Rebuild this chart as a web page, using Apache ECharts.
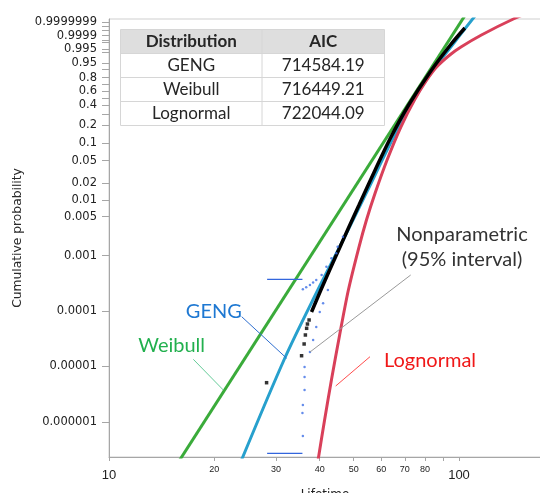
<!DOCTYPE html>
<html><head><meta charset="utf-8">
<script src="https://cdn.jsdelivr.net/npm/echarts@6/dist/echarts.min.js"></script>
<style>html,body{margin:0;padding:0;background:#fff}#chart{width:540px;height:493px}</style>
</head><body><div id="chart"></div>
<script>
// ---------- data ----------
const lifetimeTicks = [10, 20, 30, 40, 50, 60, 70, 80, 100];
const lifetimeMinorTicks = [90];
const probTickLabels = ['0.9999999','0.9999','0.995','0.95','0.8','0.6','0.4','0.2','0.1','0.05','0.02','0.01','0.005','0.001','0.0001','0.00001','0.000001'];
const probMinorTicks = [0.999999, 0.99999, 0.9995, 0.999, 0.99, 0.9, 0.7, 0.5, 0.3];

const weibullLifetime = [15.0, 105.0];
const weibullProb = [1.14e-7, 0.999999999936];

const gengLifetime = [22.9, 31.8, 39.5, 45.9, 54.5, 65.5, 79.8, 97.2, 114.6];
const gengProb = [1.06e-7, 1.42e-5, 2.39e-4, 0.001548, 0.01378, 0.1382, 0.7404, 0.999175, 0.9999999999977];

const lognormalLifetime = [38.8, 39.7, 41.3, 43.2, 45.6, 48.3, 51.7, 54.4, 57.6, 62.3, 68.2, 74.6, 80.9, 86.3, 94.1, 101.3, 115.9, 143.0, 170.1];
const lognormalProb = [8.95e-8, 2.33e-7, 1.08e-6, 5.69e-6, 3.69e-5, 2.39e-4, 0.001366, 0.004364, 0.01333, 0.0515, 0.1878, 0.472, 0.769, 0.919, 0.98403, 0.996876, 0.999925, 0.9999999903, 0.99999999999977];

const npLifetime = [37.9, 40.3, 42.7, 45.3, 48.4, 51.8, 57.6, 63.7, 71.8, 82.7, 94.5, 103.9];
const npProb = [9.59e-5, 2.39e-4, 5.49e-4, 0.001257, 0.0032, 0.008123, 0.03428, 0.1234, 0.4048, 0.8703, 0.998104, 0.99999695];

const npTailLifetime = [28.2, 35.5, 36.1, 36.4, 36.7, 36.9, 37.3];
const npTailProb = [5.09e-6, 1.56e-5, 2.54e-5, 3.69e-5, 4.87e-5, 5.82e-5, 6.88e-5];

const ciLowerLifetime = [35.8, 35.7, 35.8, 36.2, 36.2, 36.2, 37.5, 38.3, 39.1, 40.0, 40.9, 42.2, 44.6, 46.6];
const ciLowerProb = [5.56e-7, 1.45e-6, 2.02e-6, 3.76e-6, 6.45e-6, 9.77e-6, 1.83e-5, 3.0e-5, 5.14e-5, 9.59e-5, 1.38e-4, 2.39e-4, 1.097e-3, 2.188e-3];

const ciUpperLifetime = [35.8, 36.6, 37.5, 38.3, 39.1, 40.5, 41.8, 43.2, 45.0];
const ciUpperProb = [2.46e-4, 2.67e-4, 2.94e-4, 3.27e-4, 3.62e-4, 4.46e-4, 6.29e-4, 8.92e-4, 1.442e-3];

const ciStepLifetime = [28.3, 35.7];
const ciStepUpperProb = [3.73e-4, 3.73e-4];
const ciStepLowerProb = [2.71e-7, 2.71e-7];

const tableHeader = ['Distribution', 'AIC'];
const distNames = ['GENG', 'Weibull', 'Lognormal'];
const aicValues = ['714584.19', '716449.21', '722044.09'];

// ---------- transforms (Weibull probability paper) ----------
const toW = p => Math.log(-Math.log(1 - p));
const toX = t => Math.log10(t);
const pairs = (ts, ps) => ts.map((t, i) => [toX(t), toW(ps[i])]);

const labelW = probTickLabels.map(s => toW(parseFloat(s)));
const tickW = labelW.concat(probMinorTicks.map(toW));
function probLabel(v) {
  let best = 0, bd = Infinity;
  labelW.forEach((w, i) => { const d = Math.abs(w - v); if (d < bd) { bd = d; best = i; } });
  return probTickLabels[best];
}
function lifeLabel(v) {
  const t = Math.round(Math.pow(10, v));
  return (t === 10 || t === 100) ? '{big|' + t + '}' : '{small|' + t + '}';
}

const chart = echarts.init(document.getElementById('chart'), null, {renderer: 'canvas'});
const axisGray = '#a6a6a6';
const lineSeries = (name, data, color, width, z, smooth) => ({
  name, type: 'line', data, showSymbol: false, smooth: smooth, z,
  lineStyle: {color, width}, itemStyle: {color}, clip: true, silent: true
});

// table graphics
const tbl = [];
const tx0 = 120.5, tx1 = 262, tx2 = 384.5;
const rowY = [29.5, 53.5, 77.5, 101.5, 125.5];
tbl.push({type: 'rect', shape: {x: tx0, y: rowY[0], width: tx2 - tx0, height: rowY[1] - rowY[0]}, style: {fill: '#dedede'}, z: 100});
tbl.push({type: 'rect', shape: {x: tx0, y: rowY[0], width: tx2 - tx0, height: rowY[4] - rowY[0]}, style: {fill: 'none', stroke: '#d6d6d6', lineWidth: 1}, z: 101});
for (let i = 1; i < 4; i++) tbl.push({type: 'line', shape: {x1: tx0, y1: rowY[i], x2: tx2, y2: rowY[i]}, style: {stroke: '#d6d6d6', lineWidth: 1}, z: 101});
tbl.push({type: 'line', shape: {x1: tx1, y1: rowY[0], x2: tx1, y2: rowY[4]}, style: {stroke: '#d6d6d6', lineWidth: 1}, z: 101});
const c1 = (tx0 + tx1) / 2, c2 = (tx1 + tx2) / 2;
tbl.push({type: 'text', x: c1, y: (rowY[0] + rowY[1]) / 2, style: {text: tableHeader[0], fontFamily: 'Lato', fontSize: 17, fontWeight: 'bold', fill: '#262626', align: 'center', verticalAlign: 'middle'}, z: 102});
tbl.push({type: 'text', x: c2, y: (rowY[0] + rowY[1]) / 2, style: {text: tableHeader[1], fontFamily: 'Lato', fontSize: 17, fontWeight: 'bold', fill: '#262626', align: 'center', verticalAlign: 'middle'}, z: 102});
distNames.forEach((n, i) => {
  const yc = (rowY[i + 1] + rowY[i + 2]) / 2;
  tbl.push({type: 'text', x: c1, y: yc, style: {text: n, fontFamily: 'Lato', fontSize: 17, fill: '#262626', align: 'center', verticalAlign: 'middle'}, z: 102});
  tbl.push({type: 'text', x: c2, y: yc, style: {text: aicValues[i], fontFamily: 'Lato', fontSize: 17, fill: '#262626', align: 'center', verticalAlign: 'middle'}, z: 102});
});

// annotations
const ann = [
  {type: 'line', shape: {x1: 410.7, y1: 275, x2: 310, y2: 352}, style: {stroke: '#9a9a9a', lineWidth: 1}, z: 50},
  {type: 'line', shape: {x1: 241.7, y1: 316.7, x2: 286.7, y2: 358.3}, style: {stroke: '#2f6fd0', lineWidth: 1}, z: 50},
  {type: 'line', shape: {x1: 193.3, y1: 359.3, x2: 223.3, y2: 390}, style: {stroke: '#66cc99', lineWidth: 1}, z: 50},
  {type: 'line', shape: {x1: 370, y1: 356.7, x2: 335.7, y2: 386}, style: {stroke: '#ff4d4d', lineWidth: 1}, z: 50},
  {type: 'text', x: 462, y: 234.5, style: {text: 'Nonparametric', fontFamily: 'Lato', fontSize: 20, fill: '#333333', align: 'center', verticalAlign: 'middle'}, z: 60},
  {type: 'text', x: 462, y: 259.7, style: {text: '(95% interval)', fontFamily: 'Lato', fontSize: 20, fill: '#333333', align: 'center', verticalAlign: 'middle'}, z: 60},
  {type: 'text', x: 213.8, y: 311.7, style: {text: 'GENG', fontFamily: 'Lato', fontSize: 20, fill: '#1e78d2', align: 'center', verticalAlign: 'middle'}, z: 60},
  {type: 'text', x: 171.7, y: 345.7, style: {text: 'Weibull', fontFamily: 'Lato', fontSize: 20, fill: '#22b04e', align: 'center', verticalAlign: 'middle'}, z: 60},
  {type: 'text', x: 430, y: 360.8, style: {text: 'Lognormal', fontFamily: 'Lato', fontSize: 20, fill: '#f01818', align: 'center', verticalAlign: 'middle'}, z: 60}
];

chart.setOption({
  animation: false,
  backgroundColor: '#ffffff',
  grid: {left: 109, right: -1, top: 19, bottom: 36, show: true, borderColor: '#cfcfcf', borderWidth: 1, containLabel: false, outerBoundsMode: 'none'},
  xAxis: {
    type: 'value', min: 1, max: 1 + 432 / 350,
    name: 'Lifetime', nameLocation: 'middle', nameGap: 32,
    nameTextStyle: {fontFamily: 'DejaVu Sans', fontSize: 12, color: '#222'},
    axisLine: {show: true, onZero: false, lineStyle: {color: axisGray}},
    axisTick: {show: true, length: 4, lineStyle: {color: axisGray}, customValues: lifetimeTicks.concat(lifetimeMinorTicks).map(toX)},
    axisLabel: {
      customValues: lifetimeTicks.map(toX), margin: 7, formatter: lifeLabel,
      rich: {
        big: {fontFamily: 'Liberation Sans', fontSize: 13, lineHeight: 13, color: '#222', padding: [9, 0, 0, 0]},
        small: {fontFamily: 'Liberation Sans', fontSize: 9, lineHeight: 11, color: '#222'}
      }
    },
    splitLine: {show: false}
  },
  yAxis: {
    type: 'value', min: (89.2 - 457) / 24.08, max: (89.2 - 19) / 24.08,
    name: 'Cumulative probability', nameLocation: 'middle', nameGap: 85, nameRotate: 90,
    nameTextStyle: {fontFamily: 'DejaVu Sans', fontSize: 12.3, color: '#2a2a2a'},
    axisLine: {show: true, onZero: false, lineStyle: {color: axisGray}},
    axisTick: {show: true, length: 7, lineStyle: {color: axisGray}, customValues: tickW},
    axisLabel: {customValues: labelW, formatter: probLabel, margin: 12, fontFamily: 'DejaVu Sans', fontSize: 11.5, color: '#222'},
    splitLine: {show: false}
  },
  series: [
    lineSeries('Weibull', pairs(weibullLifetime, weibullProb), '#3aab3a', 3, 2, false),
    lineSeries('GENG', pairs(gengLifetime, gengProb), '#27a0cd', 3, 3, 0.3),
    lineSeries('Lognormal', pairs(lognormalLifetime, lognormalProb), '#d9405a', 3, 4, 0.3),
    lineSeries('Nonparametric', pairs(npLifetime, npProb), '#000000', 3.5, 5, 0.3),
    {type: 'scatter', name: 'Nonparametric tail', data: pairs(npTailLifetime, npTailProb), symbol: 'rect', symbolSize: 3.5, itemStyle: {color: '#000'}, z: 6, silent: true},
    {type: 'scatter', name: 'CI lower', data: pairs(ciLowerLifetime, ciLowerProb), symbol: 'circle', symbolSize: 2.5, itemStyle: {color: '#3d6fe6'}, z: 7, silent: true},
    {type: 'scatter', name: 'CI upper', data: pairs(ciUpperLifetime, ciUpperProb), symbol: 'circle', symbolSize: 2.5, itemStyle: {color: '#3d6fe6'}, z: 7, silent: true},
    lineSeries('CI step upper', pairs(ciStepLifetime, ciStepUpperProb), '#3366dd', 1.3, 7, false),
    lineSeries('CI step lower', pairs(ciStepLifetime, ciStepLowerProb), '#3366dd', 1.3, 7, false)
  ],
  graphic: tbl.concat(ann)
});
</script></body></html>
